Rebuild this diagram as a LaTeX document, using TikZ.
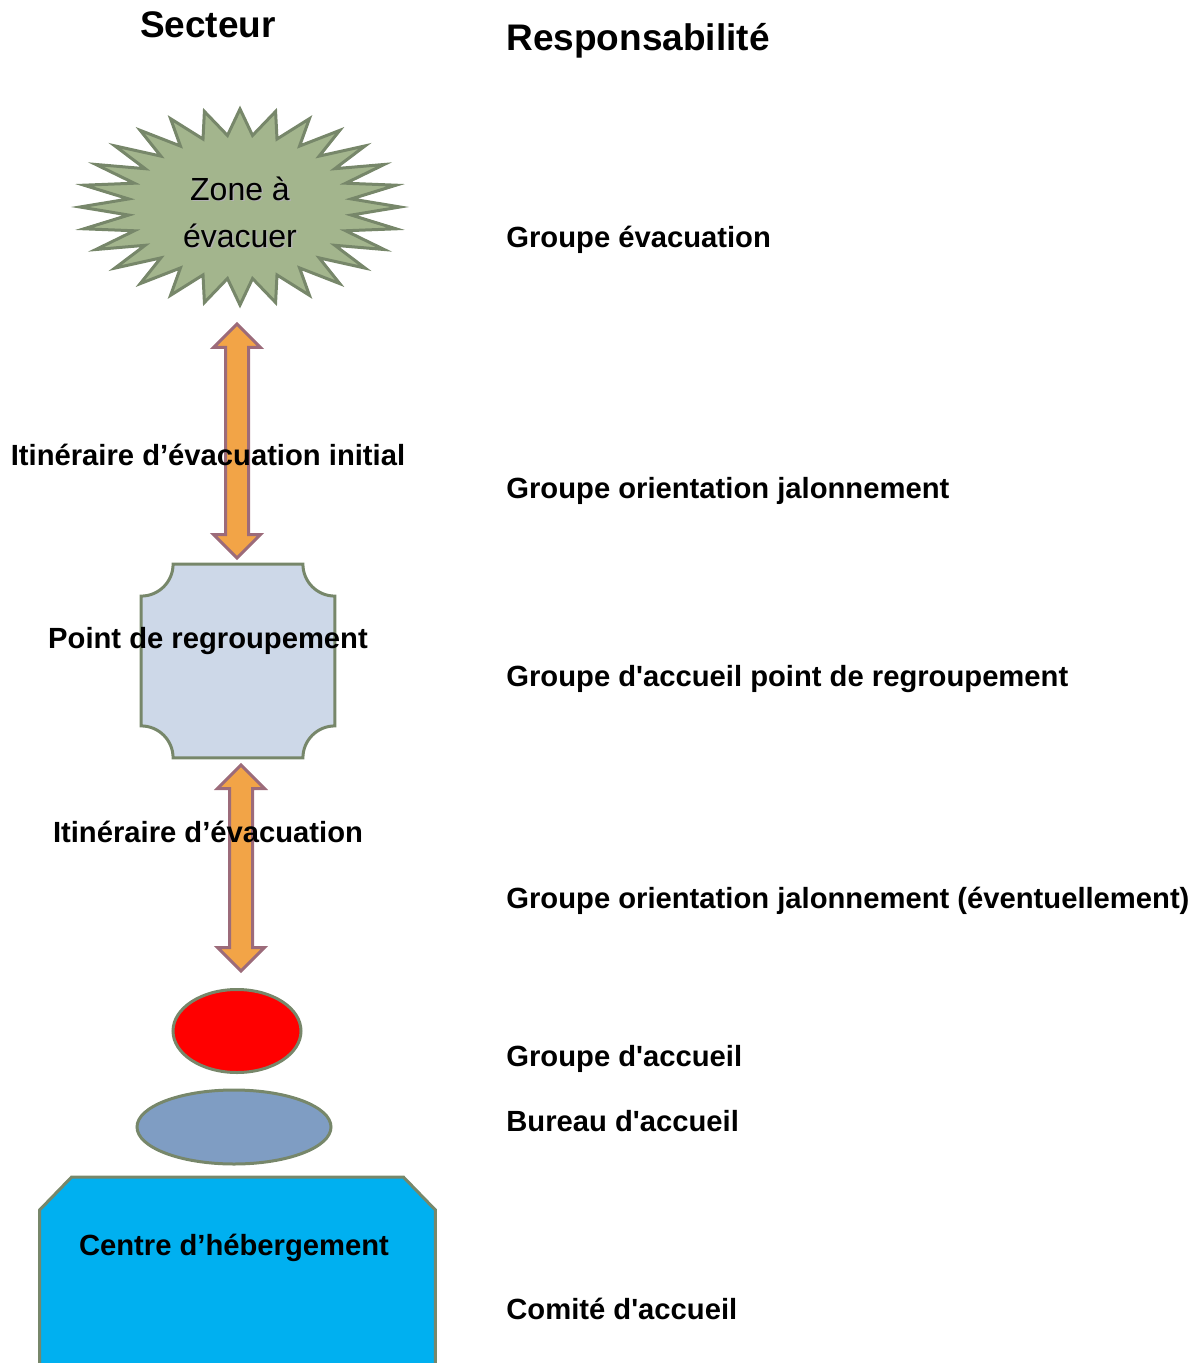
\documentclass[tikz,border=0pt]{standalone}
\usepackage{fontspec}
\setmainfont{Liberation Sans}
\usetikzlibrary{shapes.geometric,shapes.arrows}

\definecolor{sage}{HTML}{A3B58D}
\definecolor{sageline}{HTML}{77876A}
\definecolor{routefill}{HTML}{F2A447}
\definecolor{routeline}{HTML}{9C6B7A}
\definecolor{plaquefill}{HTML}{CDD8E8}
\definecolor{bureaufill}{HTML}{7F9DC3}
\definecolor{centrefill}{HTML}{00B0F0}

\newcommand{\ap}{\textquotesingle}

\begin{document}
\begin{tikzpicture}[x=0.5pt,y=-0.5pt,
    shapeline/.style={draw=sageline,line width=1.5pt},
    route/.style={double arrow,rotate=90,fill=routefill,draw=routeline,
        line width=1.5pt,inner sep=5pt,
        double arrow head extend=6pt},
    lbl/.style={font=\bfseries\fontsize{14.6}{17}\selectfont,inner sep=0pt},
    head/.style={font=\bfseries\fontsize{18.5}{22}\selectfont,inner sep=0pt}]
\clip (0,0) rectangle (1202,1363);

% column heads
\node[head] (secteur) at (208,25) {Secteur};
\node[head,anchor=west] (resp) at (506,41) {Responsabilité};

% zone to evacuate: spiky star
\draw[shapeline,fill=sage,shift={(240,207)}] (160,0)
    \foreach \i [evaluate=\i as \rx using {160-48*mod(\i,2)},
                 evaluate=\i as \ry using {98-26*mod(\i,2)}] in {1,...,55}
    { -- ({\rx*cos(\i*45/7)},{\ry*sin(\i*45/7)}) } -- cycle;
\node[font=\fontsize{16}{23.5}\selectfont,align=center,text=black!30]
    at (241.5,213.5) {Zone à\\évacuer};
\node[font=\fontsize{16}{23.5}\selectfont,align=center] (zone)
    at (240,212) {Zone à\\évacuer};

% first route
\node[route,minimum height=117pt] (route1) at (237,441) {};
\node[lbl] (iti1) at (208,455) {Itinéraire d’évacuation initial};

% gathering point
\node[minimum width=96.5pt,minimum height=96.5pt,inner sep=0pt] (point) at (238,661) {};
\draw[shapeline,fill=plaquefill]
    ([xshift=16pt]point.north west) -- ([xshift=-16pt]point.north east)
    arc(180:270:16pt) -- ([yshift=16pt]point.south east)
    arc(90:180:16pt) -- ([xshift=16pt]point.south west)
    arc(0:90:16pt) -- ([yshift=-16pt]point.north west)
    arc(270:360:16pt) -- cycle;
\node[lbl] (pointlbl) at (208,641) {Point de regroupement};

% second route
\node[route,minimum height=103pt] (route2) at (241,868) {};
\node[lbl] (iti2) at (208,832) {Itinéraire d’évacuation};

% reception
\node[ellipse,shapeline,fill=red,inner sep=0pt,
      minimum width=64pt,minimum height=41.5pt] (groupe) at (237,1031) {};
\node[ellipse,shapeline,fill=bureaufill,inner sep=0pt,
      minimum width=97pt,minimum height=37pt] (bureau) at (234,1127) {};

% shelter
\node[inner sep=0pt,minimum width=197.5pt,minimum height=130pt,anchor=north]
    (centre) at (237.5,1177) {};
\draw[shapeline,fill=centrefill]
    (centre.south west) -- ([yshift=-16.5pt]centre.north west)
    -- ([xshift=16pt]centre.north west) -- ([xshift=-16pt]centre.north east)
    -- ([yshift=-16.5pt]centre.north east) -- (centre.south east);
\node[lbl] (centrelbl) at (234,1248) {Centre d’hébergement};

% who is in charge
\begin{scope}[every node/.style={lbl,anchor=west}]
    \node (r1) at (506,240) {Groupe évacuation};
    \node (r2) at (506,491) {Groupe orientation jalonnement};
    \node (r3) at (506,679) {Groupe d\ap accueil point de regroupement};
    \node (r4) at (506,901) {Groupe orientation jalonnement (éventuellement)};
    \node (r5) at (506,1059) {Groupe d\ap accueil};
    \node (r6) at (506,1121) {Bureau d\ap accueil};
    \node (r7) at (506,1309) {Comité d\ap accueil};
\end{scope}
\end{tikzpicture}
\end{document}
